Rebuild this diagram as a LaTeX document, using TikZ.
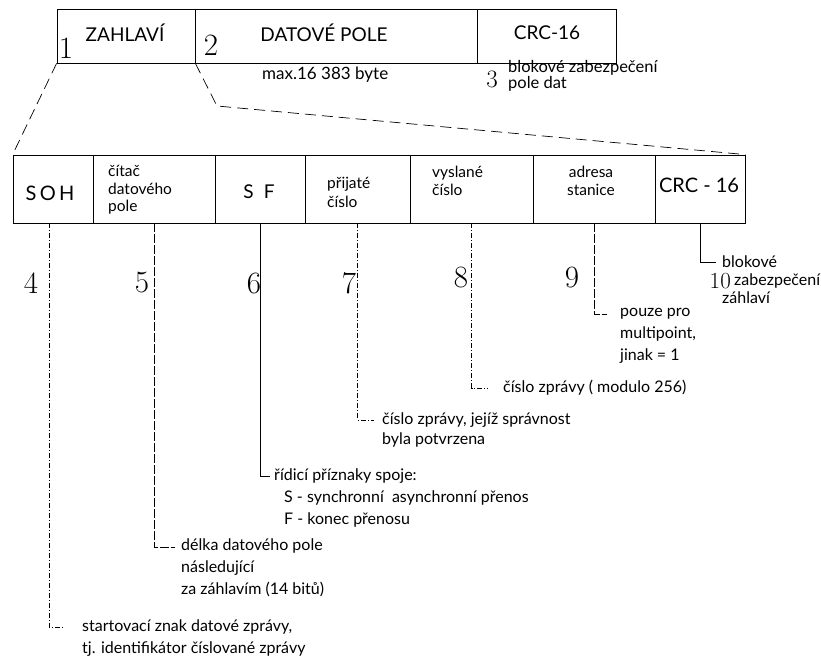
\documentclass[tikz,border=0pt]{standalone}
\usepackage{fontspec}
\newfontfamily\lab{Lato}
\begin{document}
\begin{tikzpicture}[x=1pt,y=-1pt,
  boxline/.style={line width=0.8pt},
  topcell/.style={draw, boxline, inner sep=0pt, minimum height=54pt},
  cell/.style={draw, boxline, inner sep=0pt, minimum height=68pt},
  toptext/.style={inner sep=0pt, font=\lab\fontsize{19}{20}\selectfont},
  celltext/.style={inner sep=0pt, align=left, anchor=west, font=\lab\fontsize{15.5}{17.5}\selectfont},
  lbl/.style={inner sep=0pt, align=left, anchor=west, font=\lab\fontsize{16}{22}\selectfont},
  bignum/.style={inner sep=0pt, font=\fontsize{31}{31}\selectfont},
  midnum/.style={inner sep=0pt, font=\fontsize{25}{25}\selectfont},
  dsh/.style={line width=0.7pt, dash pattern=on 11pt off 6pt},
  ldot/.style={line width=0.6pt, dash pattern=on 5pt off 2pt on 1pt off 2pt},
  ldash/.style={line width=0.6pt, dash pattern=on 9pt off 2pt},
  lsolid/.style={line width=0.7pt}
]
\path[use as bounding box] (0,0) rectangle (821,666);

% top frame
\node[topcell, minimum width=138pt] (zah) at (126,36) {};
\node[topcell, minimum width=282pt] (dat) at (336,36) {};
\node[topcell, minimum width=139pt] (crct) at (546.5,36) {};
\node[toptext] (tzah) at (125,33) {ZAHLAVÍ};
\node[toptext] (tdat) at (324,33) {DATOVÉ POLE};
\node[toptext] (tcrct) at (547,33) {CRC-16};
\node[bignum] (n1) at (66,48) {1};
\node[bignum] (n2) at (211,45) {2};
\node[lbl, font=\lab\fontsize{17}{17}\selectfont] (tmax) at (262,75) {max.16 383 byte};
\node[midnum] (n3) at (492,79) {3};
\node[lbl, font=\lab\fontsize{16.5}{16}\selectfont] (tblk) at (508,76) {blokové zabezpečení\\pole dat};

% header cells
\node[cell, minimum width=80pt] (soh) at (53,189) {};
\node[cell, minimum width=122pt] (cit) at (154,189) {};
\node[cell, minimum width=90pt] (sf) at (260,189) {};
\node[cell, minimum width=105pt] (pri) at (357.5,189) {};
\node[cell, minimum width=123pt] (vys) at (471.5,189) {};
\node[cell, minimum width=122pt] (adr) at (594,189) {};
\node[cell, minimum width=90pt] (crcb) at (700,189) {};

\node[toptext, font=\lab\fontsize{20}{20}\selectfont] (tsoh) at (50,193) {S\,O\,H};
\node[celltext] (tcit) at (108,190) {čítač\\datového\\pole};
\node[toptext] (tsf) at (259,192) {S\hspace{10pt}F};
\node[celltext, font=\lab\fontsize{15.5}{19}\selectfont] (tpri) at (327,192) {přijaté\\číslo};
\node[celltext] (tvys) at (432,181) {vyslané\\číslo};
\node[celltext, align=center, anchor=center] (tadr) at (591,181) {adresa\\stanice};
\node[toptext, font=\lab\fontsize{20}{20}\selectfont] (tcrcb) at (699,185) {CRC - 16};

% expansion lines
\coordinate (bend) at (217,106);
\draw[dsh] (zah.south west) -- (soh.north west);
\draw[dsh] (zah.south east) -- (bend) -- (crcb.north east);

% numbers
\node[bignum] (n4) at (31,283) {4};
\node[bignum] (n5) at (142,283) {5};
\node[bignum] (n6) at (254,283) {6};
\node[bignum] (n7) at (349,283) {7};
\node[bignum] (n8) at (461,277) {8};
\node[bignum] (n9) at (572,277) {9};
\node[inner sep=0pt, font=\fontsize{23}{23}\selectfont, anchor=east] (n10) at (731,281) {10};

% leaders
\coordinate (e4) at (64,627);
\coordinate (e5) at (175,547);
\coordinate (e6) at (270,476);
\coordinate (e7) at (374,420);
\coordinate (e8) at (487,388);
\coordinate (e9) at (607,314);
\coordinate (e10) at (716,262);
\draw[ldot] ([xshift=-4pt]soh.south) |- (e4);
\draw[ldash] (cit.south) |- (e5);
\draw[lsolid] (sf.south) |- (e6);
\draw[ldot] (pri.south) |- (e7);
\draw[ldot] (vys.south) |- (e8);
\draw[ldash] (adr.south) |- (e9);
\draw[lsolid] (crcb.south) |- (e10);

% explanations
\node[lbl] (t4) at (82,638) {startovací znak datové zprávy,\\tj. identifikátor číslované zprávy};
\node[lbl] (t5) at (181,568) {délka datového pole\\následující\\za záhlavím (14 bitů)};
\node[lbl] (t6) at (274,498) {řídicí příznaky spoje:\\\hspace*{10pt}S - synchronní\ \ asynchronní přenos\\\hspace*{10pt}F - konec přenosu};
\node[lbl, font=\lab\fontsize{16}{20}\selectfont] (t7) at (382,430) {číslo zprávy, jejíž správnost\\byla potvrzena};
\node[lbl] (t8) at (503,388) {číslo zprávy ( modulo 256)};
\node[lbl] (t9) at (620,336) {pouze pro\\multipoint,\\jinak = 1};
\node[lbl, font=\lab\fontsize{16}{17.5}\selectfont] (t10a) at (722,262) {blokové};
\node[lbl, font=\lab\fontsize{16}{17.5}\selectfont] (t10b) at (734,281) {zabezpečení};
\node[lbl, font=\lab\fontsize{16}{17.5}\selectfont] (t10c) at (722,298) {záhlaví};
\end{tikzpicture}
\end{document}
